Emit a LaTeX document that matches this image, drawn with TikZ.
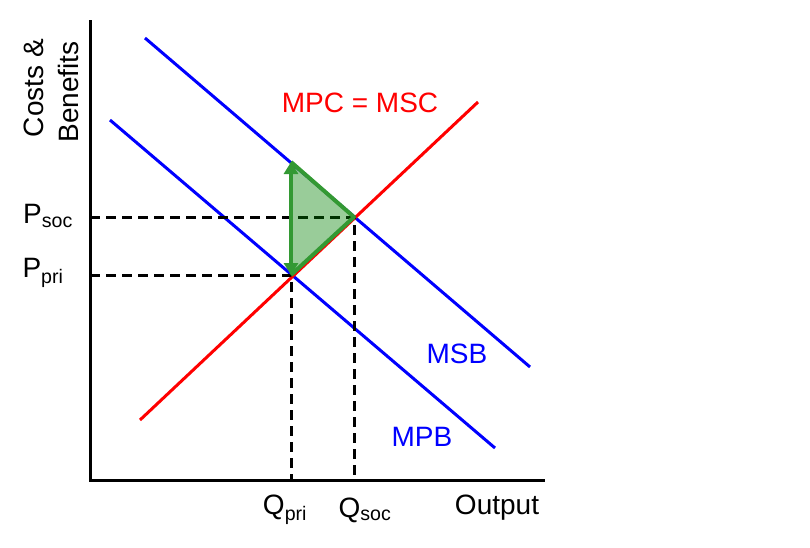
\documentclass[tikz,border=0pt]{standalone}
\usepackage{fontspec}
\setmainfont{Liberation Sans}
\usetikzlibrary{arrows.meta}
\begin{document}
\begin{tikzpicture}[x=1pt,y=-1pt,
  lbl/.style={inner sep=0pt,font=\fontsize{28}{32}\selectfont},
  curve/.style={line width=3pt},
  guide/.style={line width=3pt,dash pattern=on 10pt off 6pt}]
\useasboundingbox (0,0) rectangle (810,547);
\coordinate (o) at (90,480);
\coordinate (ytop) at (90,20);
\coordinate (xend) at (545,480);
\draw[line width=3pt] (ytop) -- (o) -- (xend);
\coordinate (msbA) at (145,38); \coordinate (msbB) at (530,367);
\coordinate (mpbA) at (110,120); \coordinate (mpbB) at (495,448);
\coordinate (mpcA) at (140,420); \coordinate (mpcB) at (478,102);
\draw[curve,blue] (msbA) -- (msbB);
\draw[curve,blue] (mpbA) -- (mpbB);
\draw[curve,red] (mpcA) -- (mpcB);
\coordinate (top) at (291,162);
\coordinate (soc) at (354,217);
\coordinate (pri) at (291,275);
\coordinate (ysoc) at (90,217); \coordinate (ypri) at (90,275);
\coordinate (xsoc) at (354,480); \coordinate (xpri) at (291,480);
\draw[guide] (ysoc) -- (soc) -- (xsoc);
\draw[guide] (ypri) -- (pri) -- (xpri);
\fill[green!50!black,opacity=0.4] (top) -- (soc) -- (pri) -- cycle;
\draw[line width=4pt,green!50!black!80,line join=round] (top) -- (soc) -- (pri);
\draw[line width=4pt,green!50!black!80,{Triangle[length=12pt,width=14pt]}-{Triangle[length=12pt,width=14pt]}] (pri) -- (top);
\node[lbl,rotate=90] (c1) at (34,88) {Costs \&};
\node[lbl,rotate=90] (c2) at (68,92) {Benefits};
\node[lbl,red] (mpc) at (360,103) {MPC = MSC};
\node[lbl,blue] (msb) at (457,354) {MSB};
\node[lbl,blue] (mpb) at (422,437) {MPB};
\node[lbl] (out) at (497,508) {Output};
\node[lbl] (qp) at (285,510) {Q\textsubscript{pri}};
\node[lbl] (qs) at (365,510) {Q\textsubscript{soc}};
\node[lbl] (ps) at (48,216) {P\textsubscript{soc}};
\node[lbl] (pp) at (43,273) {P\textsubscript{pri}};
\end{tikzpicture}
\end{document}
